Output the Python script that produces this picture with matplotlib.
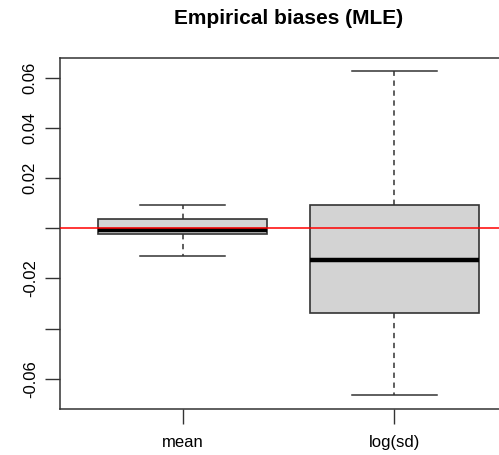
import numpy as np
import matplotlib.pyplot as plt

plt.rcParams['font.family'] = ['Liberation Sans', 'DejaVu Sans']

# box summaries of the simulated biases
groups = ['mean', 'log(sd)']
whisker_low = [-0.0110, -0.0667]
box_low = [-0.0024, -0.0338]
medians = [-0.0007, -0.0127]
box_high = [0.0037, 0.0092]
whisker_high = [0.0092, 0.0628]

y_ticks = [-0.06, -0.04, -0.02, 0.0, 0.02, 0.04, 0.06]
y_labels = ['-0.06', '', '-0.02', '', '0.02', '0.04', '0.06']

stats = []
for i in range(len(groups)):
    stats.append({'whislo': whisker_low[i], 'q1': box_low[i], 'med': medians[i],
                  'q3': box_high[i], 'whishi': whisker_high[i], 'label': groups[i]})

fig = plt.figure(figsize=(4.99, 4.55), dpi=100)
W, H = 499, 455
ax = fig.add_axes([60 / W, (H - 409) / H, 457 / W, (409 - 58) / H])

ax.axhline(0, color='red', lw=1.1, zorder=3)
ax.bxp(stats, positions=[1, 2], widths=0.8, capwidths=0.4, patch_artist=True,
       showfliers=False,
       boxprops=dict(facecolor='#d3d3d3', edgecolor='#333333', lw=1.2),
       whiskerprops=dict(color='#333333', lw=1.1, linestyle=(0, (3.5, 3))),
       capprops=dict(color='#333333', lw=1.1),
       medianprops=dict(color='black', lw=3.2, solid_capstyle='butt'))

ax.set_xlim(0.42, 2.58)
ax.set_ylim(-0.0721, 0.068)
ax.set_xticks([1, 2])
ax.set_xticklabels(groups, fontsize=12)
ax.set_yticks(y_ticks)
ax.set_yticklabels(y_labels, fontsize=12, rotation=90, va='center')
ax.tick_params(axis='both', length=11, width=1, color='#333333')
ax.tick_params(axis='y', pad=5)
ax.tick_params(axis='x', pad=8)
for s in ax.spines.values():
    s.set_color('#333333')
    s.set_linewidth(1.1)

fig.text((60 + 517) / 2 / W, 1 - 19 / H, 'Empirical biases (MLE)', ha='center',
         va='center', fontsize=15, fontweight='bold')

fig.savefig('out.png', dpi=100)
